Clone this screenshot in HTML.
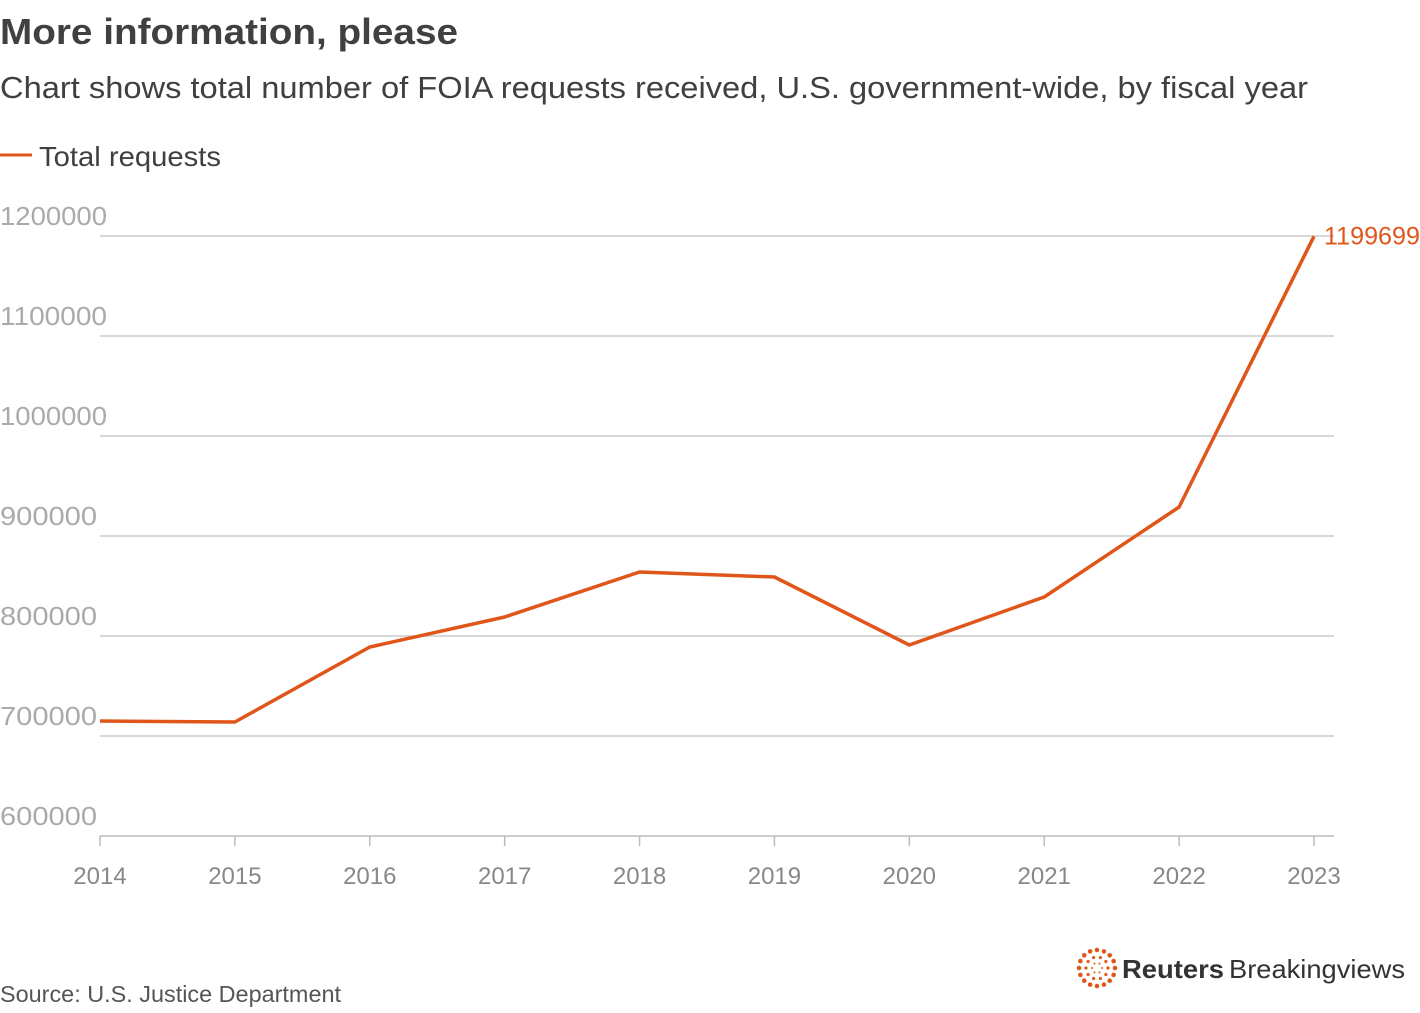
<!DOCTYPE html>
<html><head><meta charset="utf-8"><style>
body{margin:0;background:#fff;width:1420px;height:1008px;overflow:hidden;font-family:"Liberation Sans",sans-serif}
</style></head><body>
<svg id="chart" width="1420" height="1008" xmlns="http://www.w3.org/2000/svg">
<text x="0" y="44" font-size="36" font-weight="bold" fill="#404040" textLength="458" lengthAdjust="spacingAndGlyphs">More information, please</text>
<text x="0" y="98" font-size="31" fill="#404040" textLength="1308" lengthAdjust="spacingAndGlyphs">Chart shows total number of FOIA requests received, U.S. government-wide, by fiscal year</text>
<g>
<line x1="0" y1="155" x2="32" y2="155" stroke="#e0561a" stroke-width="3"/>
<text x="39" y="166" font-size="28" fill="#404040" textLength="182" lengthAdjust="spacingAndGlyphs">Total requests</text>
</g>
<g id="grid"></g><g id="xaxis"></g><g id="series"></g>
<text x="0" y="1002" font-size="23" fill="#555" textLength="341" lengthAdjust="spacingAndGlyphs">Source: U.S. Justice Department</text>
<g id="logo">
<text x="1122" y="978" font-size="26" font-weight="bold" fill="#333" textLength="102" lengthAdjust="spacingAndGlyphs">Reuters</text>
<text x="1229" y="978" font-size="26" fill="#333" textLength="176" lengthAdjust="spacingAndGlyphs">Breakingviews</text>
</g>
</svg>
<script>
const years=[2014,2015,2016,2017,2018,2019,2020,2021,2022,2023];
const requests=[715000,714000,789000,819000,864000,859000,791000,839000,929000,1199699];
const yTicks=[600000,700000,800000,900000,1000000,1100000,1200000];
const NS="http://www.w3.org/2000/svg";
const x=i=>100+i*(1314-100)/(years.length-1);
const y=v=>836-(v-600000)*600/600000;
function mk(t,a,p){const e=document.createElementNS(NS,t);for(const k in a)e.setAttribute(k,a[k]);p.appendChild(e);return e;}
const grid=document.getElementById('grid');
yTicks.forEach(v=>{
 const l=mk('line',{x1:100,x2:1334,y1:y(v),y2:y(v),stroke:v===600000?'#bbb':'#ccc','stroke-width':1.5},grid);
 
 
 const len=String(v).length===7?107:97;
 const t=mk('text',{x:0,y:y(v)-11,'font-size':26,fill:'#aaa',textLength:len,lengthAdjust:'spacingAndGlyphs'},grid);t.textContent=v;
 
 
});
const xa=document.getElementById('xaxis');
years.forEach((yr,i)=>{
 const tk=mk('line',{x1:x(i),x2:x(i),y1:836,y2:846,stroke:'#bbb','stroke-width':1.5},xa);
 
 
 const t=mk('text',{x:x(i),y:884,'font-size':24,fill:'#888','text-anchor':'middle'},xa);t.textContent=yr;
 
 
});
const s=document.getElementById('series');
const p=mk('polyline',{points:requests.map((v,i)=>x(i)+','+y(v)).join(' '),fill:'none',stroke:'#e0561a','stroke-width':3.5,'stroke-linejoin':'round'},s);


const last=requests.length-1;
const lb=mk('text',{x:x(last)+10,y:y(requests[last])+8,'font-size':25,fill:'#e0561a',textLength:96,lengthAdjust:'spacingAndGlyphs'},s);lb.textContent=requests[last];


const logo=document.getElementById('logo');
[[18,16,2.3],[11,10,1.6],[5,6,1.0]].forEach(([r,n,sz])=>{for(let k=0;k<n;k++){const a=k*2*Math.PI/n;mk('circle',{cx:1097+r*Math.cos(a),cy:968+r*Math.sin(a),r:sz,fill:'#e0561a'},logo);}});
</script>
</body></html>
